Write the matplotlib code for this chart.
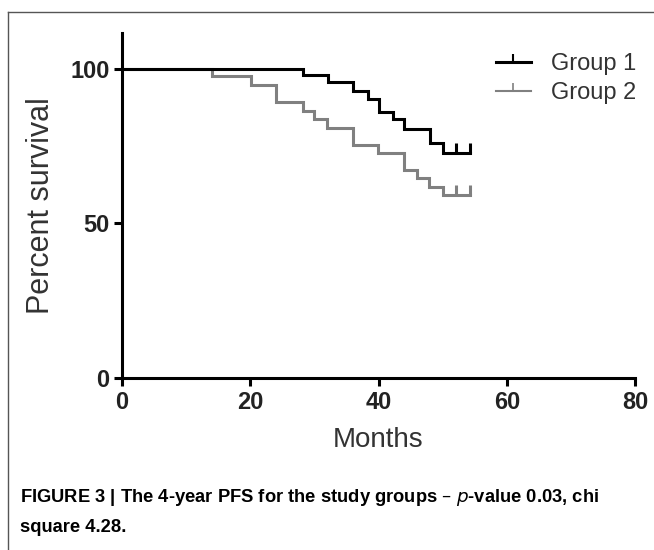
import matplotlib
matplotlib.use("Agg")
import matplotlib.pyplot as plt
from matplotlib.lines import Line2D

# Kaplan-Meier steps (months, percent survival)
g1_months = [0, 28.2, 32.2, 36.1, 38.3, 40.0, 42.2, 44.0, 48.0, 50.0, 54.3]
g1_surv = [100, 98.0, 95.6, 93.0, 90.3, 86.0, 83.8, 80.6, 76.0, 72.9, 72.9]
g1_cens = [52.1, 54.3]

g2_months = [0, 14.1, 20.1, 24.0, 28.2, 30.0, 31.9, 36.1, 39.9, 44.0, 46.0, 47.9, 50.0, 54.3]
g2_surv = [100, 97.7, 94.8, 89.2, 86.4, 83.7, 81.0, 75.4, 72.7, 67.3, 64.6, 61.9, 59.1, 59.1]
g2_cens = [52.1, 54.3]

labels = ["Group 1", "Group 2"]
x_ticks = [0, 20, 40, 60, 80]
y_ticks = [0, 50, 100]
caption1 = "FIGURE 3 | The 4-year PFS for the study groups \u2013 $\\it{p}$-value 0.03, chi"
caption2 = "square 4.28."

plt.rcParams['font.family'] = ['Liberation Sans', 'DejaVu Sans']

fig = plt.figure(figsize=(6.54, 5.5), dpi=100)
ax = fig.add_axes([0.1865, 0.3127, 0.7845, 0.6273])

black = "#000000"
gray = "#808080"

ax.step(g2_months, g2_surv, where="post", color=gray, lw=2.2, solid_joinstyle="miter")
ax.plot(g2_cens, [g2_surv[-1]] * len(g2_cens), ls="none", marker=2, ms=7, mew=2.2, color=gray)
ax.step(g1_months, g1_surv, where="post", color=black, lw=2.2, solid_joinstyle="miter")
ax.plot(g1_cens, [g1_surv[-1]] * len(g1_cens), ls="none", marker=2, ms=7, mew=2.2, color=black)

ax.set_xlim(0, 80)
ax.set_ylim(0, 111.6)
ax.set_xticks(x_ticks)
ax.set_yticks(y_ticks)
for s in ["top", "right"]:
    ax.spines[s].set_visible(False)
for s in ["left", "bottom"]:
    ax.spines[s].set_linewidth(2.2)
ax.spines["bottom"].set_bounds(0, 80)
ax.tick_params(width=2.2, length=6, direction="out", pad=3)
for lab in ax.get_xticklabels() + ax.get_yticklabels():
    lab.set_fontsize(17)
    lab.set_fontweight("bold")
    lab.set_color("#222222")

ax.set_xlabel("Months", fontsize=20, color="#333333", labelpad=10)
ax.set_ylabel("Percent survival", fontsize=22, color="#333333")
ax.yaxis.set_label_coords(-0.128, 0.5)

handles = [
    Line2D([], [], color=black, lw=2.2, marker=2, ms=6, mew=1.5),
    Line2D([], [], color=gray, lw=1.5, marker=2, ms=6, mew=1.2),
]
leg = ax.legend(handles, labels, loc="upper left", bbox_to_anchor=(0.687, 1.003),
                frameon=False, fontsize=17, handlelength=1.5, handletextpad=0.85,
                labelspacing=0.28)
for t in leg.get_texts():
    t.set_color("#333333")

# frame lines at the left and top of the figure panel
fig.add_artist(Line2D([8 / 654, 8 / 654], [0, 1 - 12 / 550], color="#555555", lw=1))
fig.add_artist(Line2D([8 / 654, 1], [1 - 12 / 550, 1 - 12 / 550], color="#555555", lw=1))

fig.text(20 / 654, 1 - 497 / 550, caption1, fontsize=13.2, fontweight="bold",
         va="center", ha="left")
fig.text(20 / 654, 1 - 528 / 550, caption2, fontsize=13.2, fontweight="bold",
         va="center", ha="left")

plt.savefig("out.png", dpi=100)
plt.close()
